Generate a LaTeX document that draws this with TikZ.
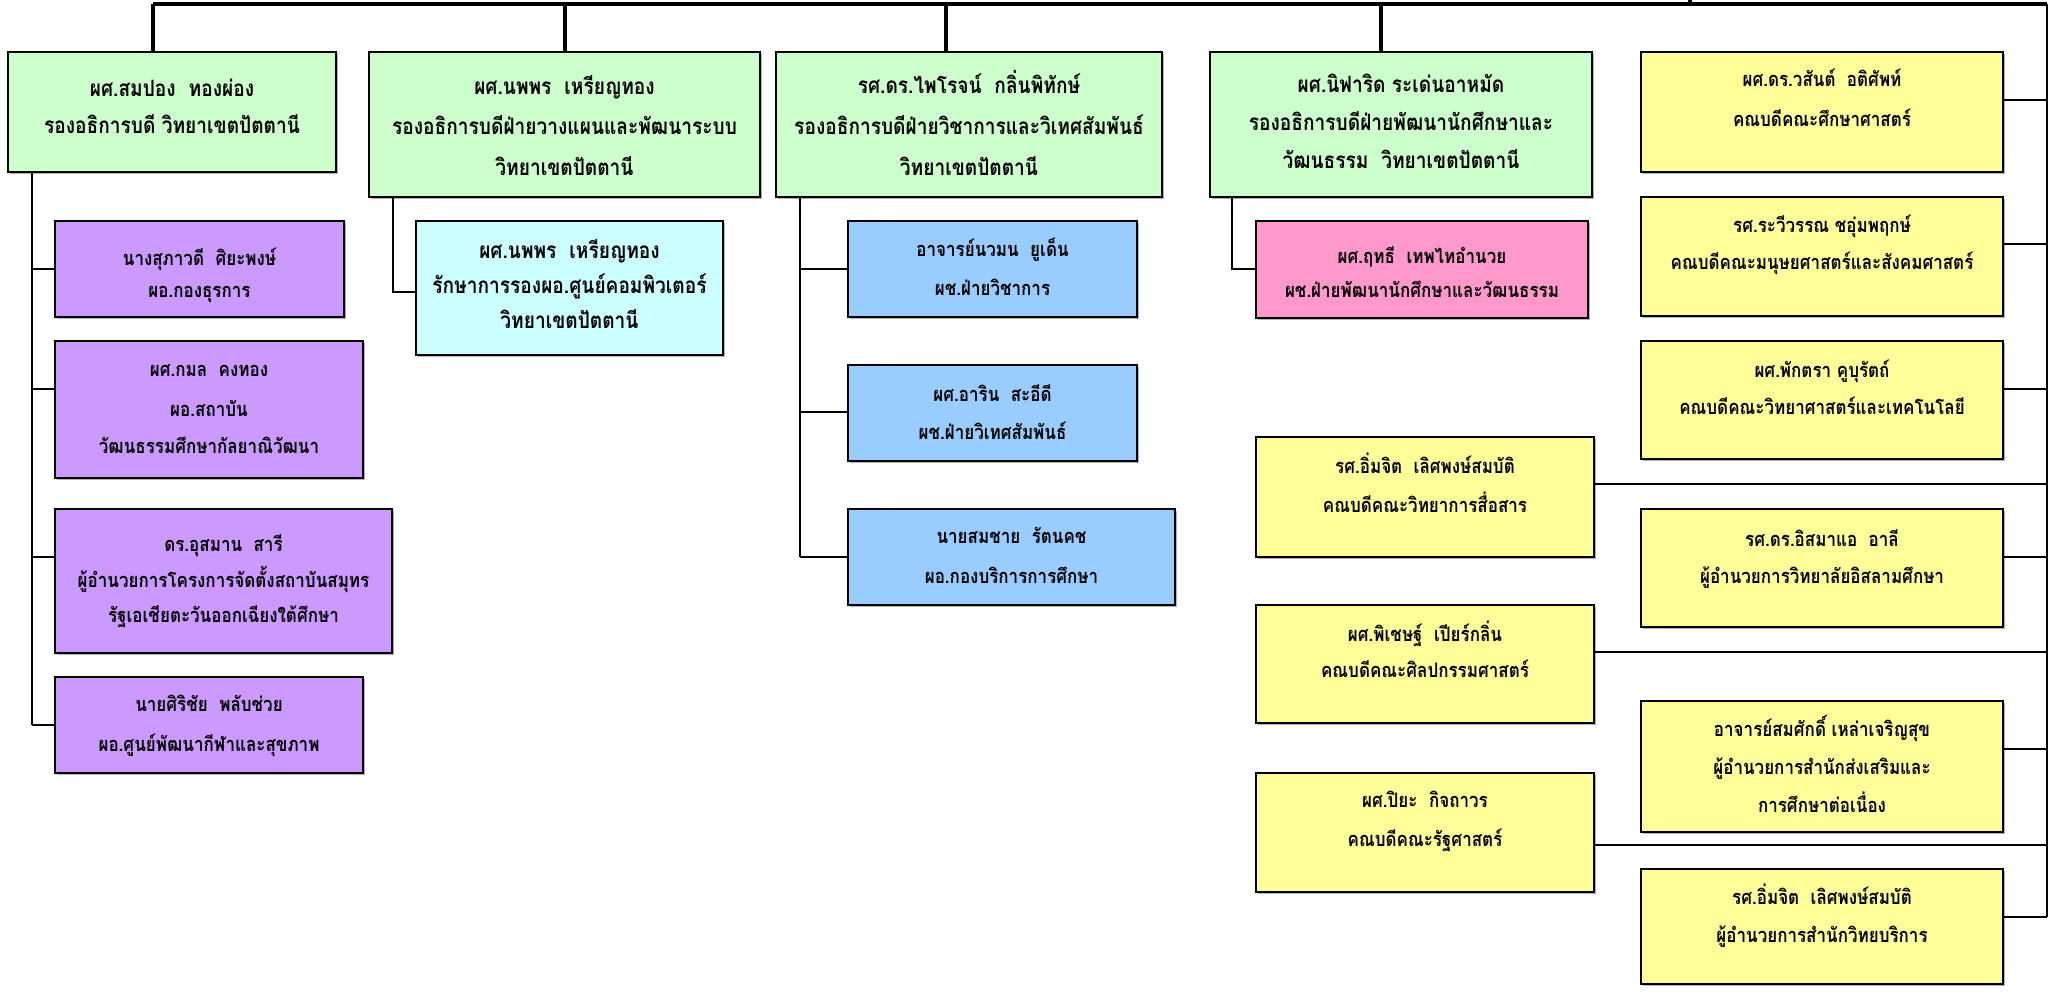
\documentclass[tikz,border=0pt]{standalone}
\usepackage{fontspec}
\newfontfamily\thai[Script=Thai,FakeStretch=0.85]{Loma}
\usetikzlibrary{shadows}
\definecolor{cgreen}{HTML}{CCFFCC}
\definecolor{cpurple}{HTML}{CC99FF}
\definecolor{ccyan}{HTML}{CCFFFF}
\definecolor{cblue}{HTML}{99CCFF}
\definecolor{cpink}{HTML}{FF99CC}
\definecolor{cyellow}{HTML}{FFFF99}
\newcommand\mkbox[6]{\node[orgbox,fill=#6,minimum width={#4-#2},minimum height={#5-#3}] (#1) at ({(#2+#4)/2},{(#3+#5)/2}) {};}
\newcommand\tline[3]{\node[txt] (#1-#2) at (#1.north |- 0,#2) {#3};}
\newcommand\tlineb[3]{\node[txtbig] (#1-#2) at (#1.north |- 0,#2) {#3};}
\begin{document}
\begin{tikzpicture}[x=1pt,y=-1pt,
  orgbox/.style={draw=black,line width=2.2pt,inner sep=0pt,outer sep=0pt,
    drop shadow={shadow xshift=2pt,shadow yshift=-2pt,fill=black!30,opacity=1}},
  txt/.style={font=\thai\bfseries\fontsize{20}{24}\selectfont,inner sep=0pt,text height=9.5pt,text depth=0pt,anchor=center},
  txtbig/.style={font=\thai\bfseries\fontsize{22.5}{27}\selectfont,inner sep=0pt,text height=10.7pt,text depth=0pt,anchor=center},
  conn/.style={line width=2.5pt},
  thk/.style={line width=4pt}]
\useasboundingbox (0,0) rectangle (2055,993);
% ---- boxes
\mkbox{g1}{8}{52}{336}{172}{cgreen}
\mkbox{g2}{369}{52}{760}{197}{cgreen}
\mkbox{g3}{776}{52}{1162}{197}{cgreen}
\mkbox{g4}{1210}{52}{1592}{197}{cgreen}
\mkbox{y1}{1641}{52}{2003}{172}{cyellow}
\mkbox{y2}{1641}{197}{2003}{316}{cyellow}
\mkbox{y3}{1641}{341}{2003}{459}{cyellow}
\mkbox{y4}{1256}{437}{1594}{557}{cyellow}
\mkbox{y5}{1641}{509}{2003}{627}{cyellow}
\mkbox{y6}{1256}{605}{1594}{723}{cyellow}
\mkbox{y7}{1641}{701}{2003}{832}{cyellow}
\mkbox{y8}{1256}{773}{1594}{892}{cyellow}
\mkbox{y9}{1641}{869}{2003}{984}{cyellow}
\mkbox{p1}{55}{221}{344}{317}{cpurple}
\mkbox{p2}{55}{341}{363}{478}{cpurple}
\mkbox{p3}{55}{509}{392}{653}{cpurple}
\mkbox{p4}{55}{677}{363}{773}{cpurple}
\mkbox{c1}{416}{221}{723}{355}{ccyan}
\mkbox{b1}{848}{221}{1137}{317}{cblue}
\mkbox{b2}{848}{365}{1137}{461}{cblue}
\mkbox{b3}{848}{509}{1175}{605}{cblue}
\mkbox{k1}{1256}{221}{1588}{318}{cpink}
% ---- texts
\tlineb{g1}{91}{ผศ.สมปอง~~ทองผ่อง}
\tlineb{g1}{128}{รองอธิการบดี วิทยาเขตปัตตานี}
\tlineb{g2}{89}{ผศ.นพพร~~เหรียญทอง}
\tlineb{g2}{129}{รองอธิการบดีฝ่ายวางแผนและพัฒนาระบบ}
\tlineb{g2}{170}{วิทยาเขตปัตตานี}
\tlineb{g3}{88}{รศ.ดร.ไพโรจน์~~กลิ่นพิทักษ์}
\tlineb{g3}{129}{รองอธิการบดีฝ่ายวิชาการและวิเทศสัมพันธ์}
\tlineb{g3}{170}{วิทยาเขตปัตตานี}
\tlineb{g4}{87}{ผศ.นิฟาริด ระเด่นอาหมัด}
\tlineb{g4}{125}{รองอธิการบดีฝ่ายพัฒนานักศึกษาและ}
\tlineb{g4}{163}{วัฒนธรรม~~วิทยาเขตปัตตานี}
\tline{y1}{82}{ผศ.ดร.วสันต์~~อติศัพท์}
\tline{y1}{122}{คณบดีคณะศึกษาศาสตร์}
\tline{y2}{228}{รศ.ระวีวรรณ ชอุ่มพฤกษ์}
\tline{y2}{265}{คณบดีคณะมนุษยศาสตร์และสังคมศาสตร์}
\tline{y3}{373}{ผศ.พักตรา คูบุรัตถ์}
\tline{y3}{410}{คณบดีคณะวิทยาศาสตร์และเทคโนโลยี}
\tline{y4}{469}{รศ.อิ่มจิต~~เลิศพงษ์สมบัติ}
\tline{y4}{508}{คณบดีคณะวิทยาการสื่อสาร}
\tline{y5}{542}{รศ.ดร.อิสมาแอ~~อาลี}
\tline{y5}{579}{ผู้อำนวยการวิทยาลัยอิสลามศึกษา}
\tline{y6}{637}{ผศ.พิเชษฐ์~~เปียร์กลิ่น}
\tline{y6}{673}{คณบดีคณะศิลปกรรมศาสตร์}
\tline{y7}{732}{อาจารย์สมศักดิ์ เหล่าเจริญสุข}
\tline{y7}{770}{ผู้อำนวยการสำนักส่งเสริมและ}
\tline{y7}{808}{การศึกษาต่อเนื่อง}
\tline{y8}{803}{ผศ.ปิยะ~~กิจถาวร}
\tline{y8}{842}{คณบดีคณะรัฐศาสตร์}
\tline{y9}{900}{รศ.อิ่มจิต~~เลิศพงษ์สมบัติ}
\tline{y9}{938}{ผู้อำนวยการสำนักวิทยบริการ}
\tline{p1}{261}{นางสุภาวดี~~ศิยะพงษ์}
\tline{p1}{293}{ผอ.กองธุรการ}
\tline{p2}{372}{ผศ.กมล~~คงทอง}
\tline{p2}{412}{ผอ.สถาบัน}
\tline{p2}{449}{วัฒนธรรมศึกษากัลยาณิวัฒนา}
\tline{p3}{547}{ดร.อุสมาน~~สารี}
\tline{p3}{583}{ผู้อำนวยการโครงการจัดตั้งสถาบันสมุทร}
\tline{p3}{618}{รัฐเอเชียตะวันออกเฉียงใต้ศึกษา}
\tline{p4}{707}{นายศิริชัย~~พลับช่วย}
\tline{p4}{747}{ผอ.ศูนย์พัฒนากีฬาและสุขภาพ}
\tlineb{c1}{253}{ผศ.นพพร~~เหรียญทอง}
\tlineb{c1}{288}{รักษาการรองผอ.ศูนย์คอมพิวเตอร์}
\tlineb{c1}{323}{วิทยาเขตปัตตานี}
\tline{b1}{252}{อาจารย์นวมน~~ยูเด็น}
\tline{b1}{291}{ผช.ฝ่ายวิชาการ}
\tline{b2}{397}{ผศ.อาริน~~สะอีดี}
\tline{b2}{435}{ผช.ฝ่ายวิเทศสัมพันธ์}
\tline{b3}{539}{นายสมชาย~~รัตนคช}
\tline{b3}{579}{ผอ.กองบริการการศึกษา}
\tline{k1}{259}{ผศ.ฤทธี~~เทพไทอำนวย}
\tline{k1}{293}{ผช.ฝ่ายพัฒนานักศึกษาและวัฒนธรรม}
% ---- connectors
\coordinate (up) at (1690,0);
\coordinate (upj) at (1690,4);
\coordinate (tl) at (153,4);
\coordinate (tr) at (2047,4);
\coordinate (d3) at (946,4);
\coordinate (d4) at (1381,4);
\draw[thk] (up) -- (upj);
\draw[thk] (tl) -- (tr);
\draw[thk] (tl) -- (tl |- g1.north);
\draw[thk] (g2.north |- tl) -- (g2.north);
\draw[thk] (d3) -- (d3 |- g3.north);
\draw[thk] (d4) -- (d4 |- g4.north);
% right trunk
\draw[conn] (tr) -- (tr |- 0,917);
\foreach \b/\yy in {y1/100,y2/244,y3/389,y4/484,y5/557,y6/652,y7/749,y8/845,y9/917}
  \draw[conn] (\b.east |- 0,\yy) -- (tr |- 0,\yy);
% G1 children
\coordinate (v1) at (32,0);
\draw[conn] (v1 |- g1.south) -- (v1 |- 0,725);
\foreach \b/\yy in {p1/269,p2/389,p3/557,p4/725}
  \draw[conn] (v1 |- 0,\yy) -- (\b.west |- 0,\yy);
% G2 child
\coordinate (v2) at (393,0);
\draw[conn] (v2 |- g2.south) |- (c1.west |- 0,292);
% G3 children
\coordinate (v3) at (800,0);
\draw[conn] (v3 |- g3.south) -- (v3 |- 0,557);
\foreach \b/\yy in {b1/269,b2/412,b3/557}
  \draw[conn] (v3 |- 0,\yy) -- (\b.west |- 0,\yy);
% G4 child
\coordinate (v4) at (1232,0);
\draw[conn] (v4 |- g4.south) |- (k1.west |- 0,269);
\end{tikzpicture}
\end{document}
